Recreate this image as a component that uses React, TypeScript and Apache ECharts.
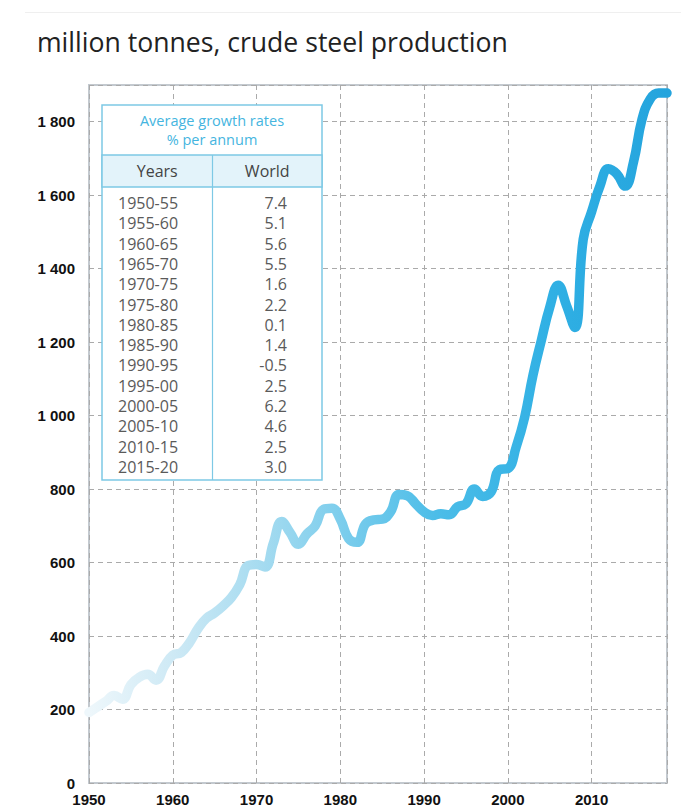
import React, { useEffect, useRef } from "react";
import * as echarts from "echarts";

const years = [
  1950, 1951, 1952, 1953, 1954, 1955, 1956, 1957, 1958, 1959,
  1960, 1961, 1962, 1963, 1964, 1965, 1966, 1967, 1968, 1969,
  1970, 1971, 1972, 1973, 1974, 1975, 1976, 1977, 1978, 1979,
  1980, 1981, 1982, 1983, 1984, 1985, 1986, 1987, 1988, 1989,
  1990, 1991, 1992, 1993, 1994, 1995, 1996, 1997, 1998, 1999,
  2000, 2001, 2002, 2003, 2004, 2005, 2006, 2007, 2008, 2009,
  2010, 2011, 2012, 2013, 2014, 2015, 2016, 2017, 2018, 2019,
];

const production = [
  192, 207, 222, 238, 228, 268, 288, 296, 280, 318,
  348, 355, 382, 420, 448, 463, 482, 505, 540, 592,
  595, 588, 652, 712, 682, 650, 678, 700, 745, 748,
  718, 665, 655, 705, 716, 718, 738, 785, 782, 760,
  738, 728, 733, 730, 752, 760, 800, 780, 792, 853,
  856, 915, 995, 1110, 1205, 1295, 1355, 1300, 1240, 1480,
  1555, 1625, 1672, 1658, 1625, 1690, 1805, 1862, 1878, 1878,
];

const periods = [
  "1950-55", "1955-60", "1960-65", "1965-70", "1970-75", "1975-80", "1980-85",
  "1985-90", "1990-95", "1995-00", "2000-05", "2005-10", "2010-15", "2015-20",
];
const growthRates = [
  "7.4", "5.1", "5.6", "5.5", "1.6", "2.2", "0.1",
  "1.4", "-0.5", "2.5", "6.2", "4.6", "2.5", "3.0",
];

const titleText = "million tonnes, crude steel production";
const tableTitle1 = "Average growth rates";
const tableTitle2 = "% per annum";
const colHeaders = ["Years", "World"];

function fmtY(v: number): string {
  if (v >= 1000) {
    const th = Math.floor(v / 1000);
    const rest = String(v % 1000).padStart(3, "0");
    return `${th} ${rest}`;
  }
  return String(v);
}

export default function App() {
  const ref = useRef<HTMLDivElement>(null);

  useEffect(() => {
    document.body.style.margin = "0";
    if (!ref.current) return;
    const chart = echarts.init(ref.current, undefined, { renderer: "svg" });

    const tableFont = '16px "Open Sans", sans-serif';
    const tableStroke = "#7ec9e5";
    const tX = 102;
    const tY = 105;
    const tW = 220;
    const tH = 375;
    const divX = 212.5;
    const rowStart = 203;
    const rowStep = 20.3;

    const tableEls: any[] = [
      {
        type: "rect",
        z: 10,
        shape: { x: tX, y: tY, width: tW, height: tH },
        style: { fill: "#ffffff", stroke: tableStroke, lineWidth: 1.5 },
      },
      {
        type: "rect",
        z: 11,
        shape: { x: tX, y: 155, width: tW, height: 32 },
        style: { fill: "#e3f3fa", stroke: tableStroke, lineWidth: 1.5 },
      },
      {
        type: "line",
        z: 12,
        shape: { x1: divX, y1: 155, x2: divX, y2: tY + tH },
        style: { stroke: tableStroke, lineWidth: 1.2 },
      },
      {
        type: "text",
        z: 12,
        style: {
          text: tableTitle1,
          x: tX + tW / 2,
          y: 120,
          font: '14.5px "Open Sans", sans-serif',
          fill: "#45b5e0",
          textAlign: "center",
          textVerticalAlign: "middle",
        },
      },
      {
        type: "text",
        z: 12,
        style: {
          text: tableTitle2,
          x: tX + tW / 2,
          y: 139,
          font: '14.5px "Open Sans", sans-serif',
          fill: "#45b5e0",
          textAlign: "center",
          textVerticalAlign: "middle",
        },
      },
      {
        type: "text",
        z: 12,
        style: {
          text: colHeaders[0],
          x: (tX + divX) / 2,
          y: 171,
          font: tableFont,
          fill: "#444444",
          textAlign: "center",
          textVerticalAlign: "middle",
        },
      },
      {
        type: "text",
        z: 12,
        style: {
          text: colHeaders[1],
          x: (divX + tX + tW) / 2,
          y: 171,
          font: tableFont,
          fill: "#444444",
          textAlign: "center",
          textVerticalAlign: "middle",
        },
      },
    ];

    periods.forEach((p, i) => {
      tableEls.push({
        type: "text",
        z: 12,
        style: {
          text: p,
          x: 118,
          y: rowStart + i * rowStep,
          font: tableFont,
          fill: "#5a5a5a",
          textAlign: "left",
          textVerticalAlign: "middle",
        },
      });
      tableEls.push({
        type: "text",
        z: 12,
        style: {
          text: growthRates[i],
          x: 287,
          y: rowStart + i * rowStep,
          font: tableFont,
          fill: "#5a5a5a",
          textAlign: "right",
          textVerticalAlign: "middle",
        },
      });
    });

    const option: any = {
      animation: false,
      backgroundColor: "#ffffff",
      grid: {
        left: 89,
        right: 14,
        top: 85,
        bottom: 21,
        show: true,
        borderColor: "#c3c9cf",
        borderWidth: 2,
        backgroundColor: "transparent",
      },
      xAxis: {
        type: "value",
        min: 1950,
        max: 2019,
        interval: 10,
        axisLine: { show: false },
        axisTick: { show: false },
        axisLabel: {
          showMaxLabel: false,
          margin: 9,
          color: "#111111",
          fontFamily: '"Liberation Sans", Arial, sans-serif',
          fontWeight: "bold",
          fontSize: 15,
          formatter: (v: number) => String(v),
        },
        splitLine: {
          show: true,
          lineStyle: { color: "#aaaaaa", width: 1, type: [5, 4] },
        },
      },
      yAxis: {
        type: "value",
        min: 0,
        max: 1900,
        interval: 200,
        axisLine: { show: false },
        axisTick: { show: false },
        axisLabel: {
          showMaxLabel: false,
          margin: 14,
          color: "#111111",
          fontFamily: '"Liberation Sans", Arial, sans-serif',
          fontWeight: "bold",
          fontSize: 15,
          formatter: (v: number) => fmtY(v),
        },
        splitLine: {
          show: true,
          lineStyle: { color: "#aaaaaa", width: 1, type: [5, 4] },
        },
      },
      series: [
        {
          type: "line",
          data: years.map((y, i) => [y, production[i]]),
          smooth: 0.45,
          showSymbol: false,
          symbol: "none",
          z: 5,
          lineStyle: {
            width: 9.5,
            cap: "round",
            join: "round",
            color: new echarts.graphic.LinearGradient(0, 0, 1, 0, [
              { offset: 0, color: "#eef7fb" },
              { offset: 0.15, color: "#cde9f5" },
              { offset: 0.3, color: "#a5dbf0" },
              { offset: 0.45, color: "#78ccec" },
              { offset: 0.6, color: "#4cbde8" },
              { offset: 0.8, color: "#30b0e4" },
              { offset: 1, color: "#24a4dd" },
            ]),
          },
        },
      ],
      graphic: [
        {
          type: "line",
          z: 1,
          shape: { x1: 25, y1: 12.5, x2: 681, y2: 12.5 },
          style: { stroke: "#efefef", lineWidth: 1 },
        },
        {
          type: "text",
          z: 10,
          style: {
            text: titleText,
            x: 37,
            y: 42,
            font: '26.6px "Open Sans", sans-serif',
            fill: "#222222",
            textAlign: "left",
            textVerticalAlign: "middle",
          },
        },
        ...tableEls,
      ],
    };

    chart.setOption(option);
    return () => {
      chart.dispose();
    };
  }, []);

  return <div ref={ref} style={{ width: 681, height: 807 }} />;
}
